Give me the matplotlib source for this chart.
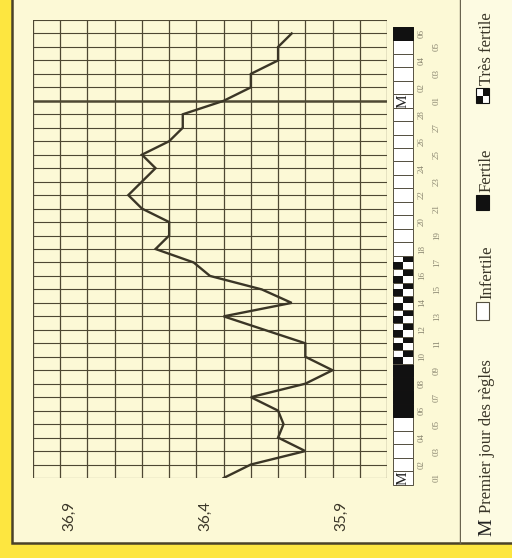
import numpy as np
import matplotlib
matplotlib.use("Agg")
import matplotlib.pyplot as plt
from matplotlib.patches import Rectangle
import matplotlib.transforms as mtransforms

# basal temperature, one reading per day (cycle of 28 days + 6 days of next one)
days = list(range(1, 35))
temps = [36.30, 36.20, 36.00, 36.10, 36.08, 36.10, 36.20, 36.00, 35.90, 36.00,
         36.00, 36.15, 36.30, 36.05, 36.16, 36.35, 36.41, 36.55, 36.50, 36.50,
         36.60, 36.65, 36.60, 36.55, 36.60, 36.50, 36.45, 36.45, 36.30, 36.20,
         36.20, 36.10, 36.10, 36.05]
day_labels = ["%02d" % d for d in range(1, 29)] + ["%02d" % d for d in range(1, 7)]
# M = premier jour des regles, I = infertile, F = fertile, T = tres fertile
status = (["M"] + ["I"] * 4 + ["F"] * 4 + ["T"] * 8 + ["I"] * 11
          + ["M"] + ["I"] * 4 + ["F"])
temp_ticks = [36.9, 36.4, 35.9]
tick_labels = ["36,9", "36,4", "35,9"]
legend_labels = ["Premier jour des règles", "Infertile", "Fertile", "Très fertile"]

yellow = "#fde640"
cream = "#fcf9d6"
ink = "#3b3626"
grid_c = "#4e4833"

W, H = 512, 558
fig = plt.figure(figsize=(W / 100, H / 100), dpi=100, facecolor=yellow)

def fx(px):
    return px / W

def fy(py):
    return (H - py) / H

# cream panel with dark border
fig.patches.append(Rectangle((fx(12), fy(543)), 1.2, 1.2, transform=fig.transFigure,
                             facecolor=cream, edgecolor="#4a4228", lw=1.8, zorder=-2))
fig.patches.append(Rectangle((fx(461), fy(542)), 1.0, 1.2, transform=fig.transFigure,
                             facecolor="#fdfbe2", edgecolor="none", zorder=-1))
fig.lines.append(plt.Line2D([fx(460), fx(460)], [fy(543), 1.0], transform=fig.transFigure,
                            color="#6a6450", lw=1.0, zorder=-1))

ax = fig.add_axes([fx(33), fy(478), (387 - 33) / W, (478 - 20) / H])
ax.set_zorder(1)
ax.set_facecolor("none")
ax.set_xlim(37.0, 35.7)
ax.set_ylim(1, 35)
for s in ax.spines.values():
    s.set_visible(False)
ax.set_xticks([])
ax.set_yticks([])

for t in np.arange(35.7, 37.01, 0.1):
    ax.axvline(t, color=grid_c, lw=0.9, zorder=1)
for d in range(1, 36):
    lw = 1.8 if d == 29 else 0.8
    ax.axhline(d, color=grid_c, lw=lw, zorder=1)

ax.plot(temps, days, color=ink, lw=1.7, zorder=3, solid_joinstyle="miter")

# fertility boxes below the chart (right in this rotated view)
bt = mtransforms.blended_transform_factory(ax.transAxes, ax.transData)
bx0, bx1 = (393 - 33) / 354, (413 - 33) / 354
bw = bx1 - bx0
for d, st in zip(days, status):
    y0 = d - 0.5
    ax.add_patch(Rectangle((bx0, y0), bw, 1, transform=bt, facecolor="white",
                           edgecolor="#555040", lw=0.7, clip_on=False, zorder=2))
    if st == "F":
        ax.add_patch(Rectangle((bx0, y0), bw, 1, transform=bt, facecolor="#111111",
                               edgecolor="#111111", lw=0.7, clip_on=False, zorder=2))
    elif st == "T":
        for i in range(2):
            for j in range(2):
                if (i + j) % 2 == 0:
                    ax.add_patch(Rectangle((bx0 + i * bw / 2, y0 + j * 0.5), bw / 2, 0.5,
                                           transform=bt, facecolor="#111111",
                                           edgecolor="none", clip_on=False, zorder=2))
    elif st == "M":
        ax.text(bx0 + bw / 2, d, "M", transform=bt, rotation=90, ha="center", va="center",
                fontsize=11, color="#222222", family="Liberation Serif", zorder=4)

for d, lab in zip(days, day_labels):
    xa = (437 - 33) / 354 if d % 2 == 1 else (422 - 33) / 354
    ax.text(xa, d, lab, transform=bt, rotation=90, ha="center", va="center",
            fontsize=6.5, color="#8a8670", family="Liberation Serif")

# temperature labels
off = mtransforms.offset_copy(ax.transData, fig=fig, x=9, y=0, units="dots")
tt = mtransforms.blended_transform_factory(off, ax.transAxes)
for t, lab in zip(temp_ticks, tick_labels):
    ax.text(t, -0.082, lab, transform=tt, rotation=90, ha="center", va="center",
            fontsize=11, color="#3a3628", family="Lato")

# legend on the right
lx = fx(487)
fig.text(lx, fy(527), "M", rotation=90, ha="center", va="center", fontsize=14,
         color="#222222", family="Liberation Serif")
fig.text(lx, fy(513), legend_labels[0], rotation=90, ha="center", va="bottom",
         fontsize=12, color="#3a3628", family="Liberation Serif")
icons = [(302, 320, "I"), (195, 210, "F"), (88, 103, "T")]
for (ya, yb, kind), lab in zip(icons, legend_labels[1:]):
    x0, x1 = fx(476), fx(489)
    if kind == "I":
        fig.patches.append(Rectangle((x0, fy(yb)), x1 - x0, fy(ya) - fy(yb),
                                     transform=fig.transFigure, facecolor="white",
                                     edgecolor="#555040", lw=0.8))
    elif kind == "F":
        fig.patches.append(Rectangle((x0, fy(yb)), x1 - x0, fy(ya) - fy(yb),
                                     transform=fig.transFigure, facecolor="#111111",
                                     edgecolor="#111111", lw=0.8))
    else:
        w2, h2 = (x1 - x0) / 2, (fy(ya) - fy(yb)) / 2
        fig.patches.append(Rectangle((x0, fy(yb)), x1 - x0, fy(ya) - fy(yb),
                                     transform=fig.transFigure, facecolor="white",
                                     edgecolor="#111111", lw=0.8))
        for i in range(2):
            for j in range(2):
                if (i + j) % 2 == 0:
                    fig.patches.append(Rectangle((x0 + i * w2, fy(yb) + j * h2), w2, h2,
                                                 transform=fig.transFigure,
                                                 facecolor="#111111", edgecolor="none"))
    fig.text(lx, fy(ya - 3), lab, rotation=90, ha="center", va="bottom",
             fontsize=12, color="#3a3628", family="Liberation Serif")

fig.savefig("out.png", dpi=100, facecolor=yellow)
